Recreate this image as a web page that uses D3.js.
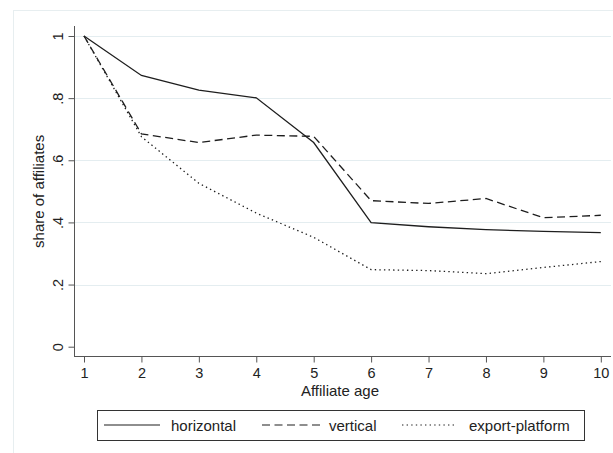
<!DOCTYPE html>
<html>
<head>
<meta charset="utf-8">
<script src="https://cdn.jsdelivr.net/npm/d3@7"></script>
<style>
  html, body { margin: 0; padding: 0; background: #fff; }
  svg { display: block; }
  text { font-family: "Liberation Sans", Arial, sans-serif; fill: #222; }
</style>
</head>
<body>
<svg id="chart" width="613" height="453"></svg>
<script>
const ages = [1, 2, 3, 4, 5, 6, 7, 8, 9, 10];
const horizontal = [1.0, 0.873, 0.826, 0.801, 0.657, 0.399, 0.386, 0.377, 0.371, 0.367];
const vertical = [1.0, 0.685, 0.657, 0.681, 0.677, 0.470, 0.461, 0.477, 0.415, 0.423];
const exportPlatform = [1.0, 0.676, 0.526, 0.430, 0.352, 0.248, 0.245, 0.235, 0.255, 0.274];
const yTicks = [0, 0.2, 0.4, 0.6, 0.8, 1];
const yTickLabels = ["0", ".2", ".4", ".6", ".8", "1"];
const xTickLabels = ["1", "2", "3", "4", "5", "6", "7", "8", "9", "10"];
const seriesNames = ["horizontal", "vertical", "export-platform"];

const series = [
  { name: seriesNames[0], values: horizontal, dash: null },
  { name: seriesNames[1], values: vertical, dash: "8,4.5" },
  { name: seriesNames[2], values: exportPlatform, dash: "1.4,3.2" }
];

const svg = d3.select("#chart");

// outer frame
svg.append("rect").attr("x", 13.5).attr("y", 10.5).attr("width", 700).attr("height", 500)
  .attr("fill", "#fff").attr("stroke", "#e7eef0").attr("stroke-width", 1);

const x = d3.scaleLinear().domain([1, 10]).range([84, 600.8]);
const y = d3.scaleLinear().domain([0, 1]).range([346.7, 36]);
const plotLeft = 74, plotRight = 611, axisY = 356.5;

// gridlines
svg.append("g").selectAll("line").data(yTicks.filter(d => d > 0)).join("line")
  .attr("x1", plotLeft).attr("x2", plotRight)
  .attr("y1", d => Math.round(y(d)) + 0.5).attr("y2", d => Math.round(y(d)) + 0.5)
  .attr("stroke", "#e4edf0").attr("stroke-width", 1);

// y axis
const yAxis = d3.axisLeft(y).tickValues(yTicks).tickFormat((d, i) => yTickLabels[i]).tickSize(6).tickPadding(5);
const gy = svg.append("g").attr("transform", `translate(${plotLeft + 0.5},0)`).call(yAxis);
gy.select(".domain").remove();
gy.selectAll(".tick line").attr("stroke", "#555");
gy.selectAll(".tick text")
  .attr("font-size", 14.5).attr("fill", "#222")
  .attr("transform", "rotate(-90)").attr("x", 0).attr("y", -12).attr("dy", 0)
  .attr("text-anchor", "middle");
svg.append("line").attr("x1", plotLeft + 0.5).attr("x2", plotLeft + 0.5).attr("y1", 26).attr("y2", axisY)
  .attr("stroke", "#555").attr("stroke-width", 1);

// x axis
const xAxis = d3.axisBottom(x).tickValues(ages).tickFormat((d, i) => xTickLabels[i]).tickSize(6).tickPadding(4);
const gx = svg.append("g").attr("transform", `translate(0,${axisY})`).call(xAxis);
gx.select(".domain").remove();
gx.selectAll(".tick line").attr("stroke", "#555");
gx.selectAll(".tick text").attr("font-size", 14.5).attr("fill", "#222").attr("y", 21.5).attr("dy", 0);
svg.append("line").attr("x1", plotLeft).attr("x2", plotRight).attr("y1", axisY).attr("y2", axisY)
  .attr("stroke", "#555").attr("stroke-width", 1);

// titles
svg.append("text").attr("x", 340).attr("y", 396).attr("text-anchor", "middle")
  .attr("font-size", 15).text("Affiliate age");
svg.append("text").attr("transform", `translate(44,${(y(0) + y(1)) / 2}) rotate(-90)`)
  .attr("text-anchor", "middle").attr("font-size", 15).text("share of affiliates");

// lines
const line = d3.line().x((d, i) => x(ages[i])).y(d => y(d));
svg.append("g").selectAll("path").data(series).join("path")
  .attr("d", d => line(d.values))
  .attr("fill", "none").attr("stroke", "#1e1e1e").attr("stroke-width", 1.3)
  .attr("stroke-dasharray", d => d.dash);

// legend
const lg = svg.append("g");
lg.append("rect").attr("x", 97.5).attr("y", 410.5).attr("width", 487).attr("height", 30)
  .attr("fill", "#fff").attr("stroke", "#333").attr("stroke-width", 1);
const legendItems = [
  { lx1: 104, lx2: 160, tx: 171 },
  { lx1: 262, lx2: 320, tx: 329 },
  { lx1: 402, lx2: 457, tx: 469 }
];
legendItems.forEach((it, i) => {
  lg.append("line").attr("x1", it.lx1).attr("x2", it.lx2).attr("y1", 425).attr("y2", 425)
    .attr("stroke", "#1e1e1e").attr("stroke-width", 1.2).attr("stroke-dasharray", series[i].dash);
  lg.append("text").attr("x", it.tx).attr("y", 431).attr("font-size", 15).text(series[i].name);
});
</script>
</body>
</html>
